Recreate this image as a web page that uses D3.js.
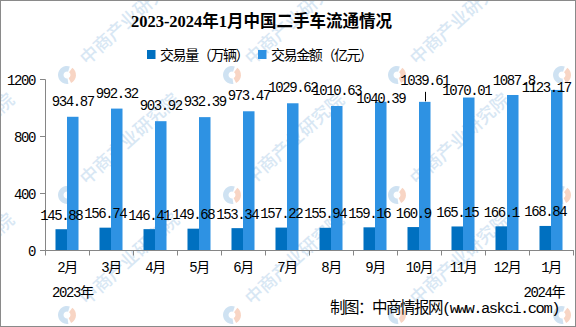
<!DOCTYPE html>
<html>
<head>
<meta charset="utf-8">
<script src="https://cdn.jsdelivr.net/npm/d3@7"></script>
<style>
  html, body { margin: 0; padding: 0; background: #fff; }
  svg { display: block; }
  .mono { font-family: "Liberation Mono", "Noto Sans CJK SC", monospace; letter-spacing: -1.4px; }
</style>
</head>
<body>
<svg id="chart" width="576" height="327"></svg>
<script>
// 2023-2024 used-car transactions by month
const months = ["2月", "3月", "4月", "5月", "6月", "7月", "8月", "9月", "10月", "11月", "12月", "1月"];
const volume = [145.88, 156.74, 146.41, 149.68, 153.34, 157.22, 155.94, 159.16, 160.9, 165.15, 166.1, 168.84];
const amount = [934.87, 992.32, 903.92, 932.39, 973.47, 1029.62, 1010.63, 1040.39, 1039.61, 1070.01, 1087.8, 1123.17];
const seriesNames = ["交易量（万辆）", "交易金额（亿元）"];
const yTicks = [0, 400, 800, 1200];
const titleText = "2023-2024年1月中国二手车流通情况";
const yearLabels = ["2023年", "2024年"];
const sourceText = "制图：中商情报网(www.askci.com)";

(function () {
const W = 576, H = 327;
const colors = ["#0070c0", "#2e92e3"];
const axisColor = "#868686";
const svg = d3.select("#chart");

// plot area
const plotLeft = 45, plotRight = 573, plotBottom = 250, plotTop = 79;

const x = d3.scaleBand().domain(months).range([plotLeft, plotRight]).paddingInner(0).paddingOuter(0);
const y = d3.scaleLinear().domain([0, 1200]).range([plotBottom, plotTop]);
const groupW = x.bandwidth() * 0.523;
const x1 = d3.scaleBand().domain([0, 1]).range([0, groupW]).padding(0);
const groupOffset = (x.bandwidth() - groupW) / 2;

// background watermark: logo + diagonal brand text, tiled and clipped to the canvas
svg.append("defs").append("clipPath").attr("id", "canvasClip")
  .append("rect").attr("x", 0).attr("y", 0).attr("width", W).attr("height", H);
const wm = svg.append("g").attr("class", "watermark").attr("clip-path", "url(#canvasClip)");
const arcGen = d3.arc().innerRadius(3.5).outerRadius(9);
for (let row = 0; row < 3; row++) {
  for (let col = 0; col < 5; col++) {
    const cx = -98 + 165 * col, cy = 75 + 120 * row;
    const g = wm.append("g").attr("transform", `translate(${cx},${cy})`);
    g.append("path").attr("d", arcGen({startAngle: Math.PI * 0.95, endAngle: Math.PI * 2.1})).attr("fill", "#cfe2f2");
    g.append("path").attr("d", arcGen({startAngle: Math.PI * 0.2, endAngle: Math.PI * 0.85})).attr("fill", "#f8d5c4");
    g.append("text")
      .attr("transform", "rotate(-42)")
      .attr("x", 21).attr("y", 6.5)
      .attr("font-family", "'Noto Sans CJK SC', sans-serif")
      .attr("font-size", 18).attr("font-weight", 500)
      .attr("fill", "#d8e7f4")
      .text("中商产业研究院");
  }
}

// frame
svg.append("rect").attr("x", 0.5).attr("y", 0.5).attr("width", W - 1).attr("height", H - 1)
  .attr("fill", "none").attr("stroke", "#8a8a8a").attr("stroke-width", 1);

// title
svg.append("text")
  .attr("x", 261.5).attr("y", 27)
  .attr("text-anchor", "middle")
  .attr("font-family", "'Liberation Serif', 'Noto Sans CJK SC', serif")
  .attr("font-size", 16.5).attr("font-weight", 700)
  .attr("fill", "#000")
  .text(titleText);

// legend
const legendItems = [{x: 147, name: seriesNames[0], c: colors[0]}, {x: 258, name: seriesNames[1], c: colors[1]}];
legendItems.forEach(d => {
  svg.append("rect").attr("x", d.x).attr("y", 50).attr("width", 8.5).attr("height", 9).attr("fill", d.c);
  svg.append("text").attr("class", "mono")
    .attr("x", d.x + 13).attr("y", 59.5)
    .attr("font-size", 14).attr("fill", "#000")
    .text(d.name);
});

// bars
const groups = svg.append("g").selectAll("g").data(months).join("g")
  .attr("transform", d => `translate(${x(d) + groupOffset},0)`);

groups.append("rect")
  .attr("x", x1(0)).attr("width", x1.bandwidth())
  .attr("y", (d, i) => y(volume[i])).attr("height", (d, i) => y(0) - y(volume[i]))
  .attr("fill", colors[0]);
groups.append("rect")
  .attr("x", x1(1)).attr("width", x1.bandwidth())
  .attr("y", (d, i) => y(amount[i])).attr("height", (d, i) => y(0) - y(amount[i]))
  .attr("fill", colors[1]);

// axes
const yAxis = d3.axisLeft(y).tickValues(yTicks).tickSize(5).tickPadding(5).tickFormat(d3.format("d"));
const yg = svg.append("g").attr("transform", `translate(${plotLeft},0)`).call(yAxis);
yg.select(".domain").attr("stroke", axisColor).attr("d", `M-5,${plotTop + 0.5}H0.5V${plotBottom + 0.5}H-5`);
yg.selectAll(".tick line").attr("stroke", axisColor);
yg.selectAll(".tick text").attr("class", "mono").attr("font-size", 14).attr("fill", "#000").attr("dy", "0.36em");

const xAxis = d3.axisBottom(x).tickSize(0).tickPadding(10);
const xg = svg.append("g").attr("transform", `translate(0,${plotBottom})`).call(xAxis);
xg.select(".domain").attr("stroke", axisColor).attr("d", `M${plotLeft},0.5H${plotRight}`);
xg.selectAll(".tick text").attr("class", "mono").attr("font-size", 14).attr("fill", "#000").attr("dy", "0.85em");
// boundary tick marks between categories
xg.append("g").selectAll("line").data(d3.range(months.length + 1)).join("line")
  .attr("x1", i => Math.round(plotLeft + i * x.bandwidth()) + 0.5)
  .attr("x2", i => Math.round(plotLeft + i * x.bandwidth()) + 0.5)
  .attr("y1", 0).attr("y2", 5.5)
  .attr("stroke", axisColor);

// year labels under the first and last months
svg.append("text").attr("class", "mono").attr("x", 52).attr("y", 297).attr("font-size", 14).text(yearLabels[0]);
svg.append("text").attr("class", "mono").attr("x", 564).attr("y", 297).attr("text-anchor", "end").attr("font-size", 14).text(yearLabels[1]);

// value labels
const labelG = svg.append("g").attr("class", "mono").attr("font-size", 14).attr("fill", "#000").attr("text-anchor", "middle");
labelG.selectAll("text.vol").data(months).join("text").attr("class", "vol")
  .attr("x", d => x(d) + groupOffset + x1(0) + x1.bandwidth() / 2)
  .attr("y", (d, i) => y(volume[i]) - 9.5)
  .text((d, i) => String(volume[i]));

// some amount labels are shifted to avoid neighbours
const amountShift = {7: [0, 12.6], 8: [0, -6], 9: [-2, 8.5], 10: [1, 1], 11: [-10.5, 13]};
labelG.selectAll("text.amt").data(months).join("text").attr("class", "amt")
  .attr("x", (d, i) => x(d) + groupOffset + x1(1) + x1.bandwidth() / 2 + (amountShift[i] ? amountShift[i][0] : 0))
  .attr("y", (d, i) => y(amount[i]) - 11 + (amountShift[i] ? amountShift[i][1] : 0))
  .text((d, i) => String(amount[i]));

// leader line for the raised label
const li = 8;
const lx = Math.round(x(months[li]) + groupOffset + x1(1) + x1.bandwidth() / 2) + 0.5;
svg.append("line").attr("x1", lx).attr("x2", lx)
  .attr("y1", y(amount[li]) - 10).attr("y2", y(amount[li]) - 0.5)
  .attr("stroke", "#000").attr("stroke-width", 1);

// source
svg.append("text").attr("class", "mono")
  .attr("x", 330).attr("y", 313).attr("font-size", 15.5)
  .style("letter-spacing", "-1.5px")
  .text(sourceText);
})();
</script>
</body>
</html>
